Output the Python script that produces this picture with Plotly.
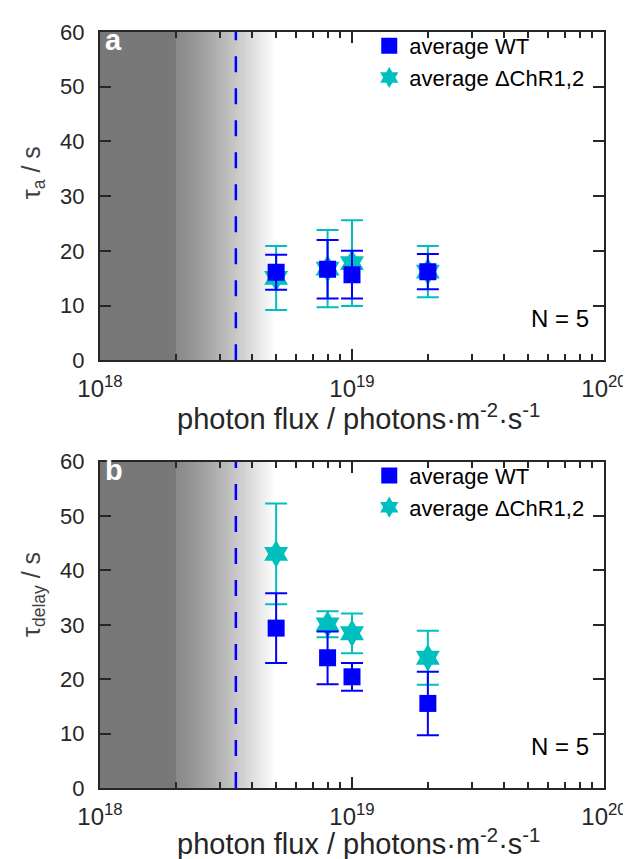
import numpy as np
import plotly.graph_objects as go
from plotly.subplots import make_subplots

# ---------------- data ----------------
flux = [5e18, 8e18, 1e19, 2e19]

tau_a_wt = [16.1, 16.65, 15.65, 16.2]
tau_a_wt_err = [3.2, 5.35, 4.35, 3.2]
tau_a_dchr = [15.05, 16.75, 17.75, 16.2]
tau_a_dchr_err = [5.85, 7.05, 7.85, 4.7]

tau_delay_wt = [29.4, 23.95, 20.45, 15.55]
tau_delay_wt_err = [6.4, 4.85, 2.55, 5.85]
tau_delay_dchr = [43.05, 30.1, 28.45, 23.95]
tau_delay_dchr_err = [9.25, 2.4, 3.65, 4.95]

threshold_flux = 3.46e18      # dashed line
dark_end = 2.0e18             # uniform dark region end
gradient_end = 5.0e18         # gradient fades to white

x_tickvals = [1e18, 1e19, 1e20]
x_ticktext = ["10<sup>18</sup>", "10<sup>19</sup>", "10<sup>20</sup>"]
y_tickvals = [0, 10, 20, 30, 40, 50, 60]
panel_letters = ["a", "b"]
y_titles = ["τ<sub>a</sub> / s", "τ<sub>delay</sub> / s"]
x_title = "photon flux / photons·m<sup>-2</sup>·s<sup>-1</sup>"
n_label = "N = 5"
# --------------------------------------

WT_COLOR = "#0000FF"
DCHR_COLOR = "#00BFBF"
AX_COLOR = "#262626"
FONT = "Liberation Sans, Arial, sans-serif"

H = 859
W = 631
L, R = 92, 603
top_a, bot_a = 20, 350
top_b, bot_b = 452, 780
tot = bot_b - top_a


def px_x(X):
    return (X - L) / (R - L)


def px_y(Y):
    return (bot_b - Y) / tot


fig = make_subplots(rows=2, cols=1, vertical_spacing=0.134)

panels = [
    (tau_a_wt, tau_a_wt_err, tau_a_dchr, tau_a_dchr_err),
    (tau_delay_wt, tau_delay_wt_err, tau_delay_dchr, tau_delay_dchr_err),
]

minor_vals = [float(m) * 10.0 ** e for e in (18, 19) for m in range(2, 10)]

for i, (wt, wte, dc, dce) in enumerate(panels):
    row = i + 1
    legend_name = "legend" if i == 0 else "legend2"
    fig.add_trace(go.Scatter(
        x=flux, y=dc, mode="markers", name="average ΔChR1,2",
        marker=dict(symbol="hexagram", size=21, color=DCHR_COLOR),
        error_y=dict(type="data", array=dce, color=DCHR_COLOR, thickness=2, width=11),
        legend=legend_name, legendrank=2,
    ), row=row, col=1)
    fig.add_trace(go.Scatter(
        x=flux, y=wt, mode="markers", name="average WT",
        marker=dict(symbol="square", size=17, color=WT_COLOR),
        error_y=dict(type="data", array=wte, color=WT_COLOR, thickness=2, width=11),
        legend=legend_name, legendrank=1,
    ), row=row, col=1)

    xref = "x" if i == 0 else "x2"
    yref = "y domain" if i == 0 else "y2 domain"
    nstrip = 70
    edges = np.logspace(np.log10(dark_end), np.log10(gradient_end), nstrip + 1)
    # dark region (ends under the first gradient strips so no seam shows)
    fig.add_shape(type="rect", xref=xref, yref=yref, x0=1e18, x1=float(edges[2]), y0=0, y1=1,
                  fillcolor="#787878", line_width=0, layer="below")
    # gradient: overlapping strips, lighter ones drawn on top
    for k in range(nstrip):
        t = k / (nstrip - 1)
        g = int(round(138 + 117 * t ** 1.25))
        g = min(g, 255)
        x1 = float(edges[k + 3]) if k + 3 <= nstrip else gradient_end * 1.01
        fig.add_shape(type="rect", xref=xref, yref=yref, x0=float(edges[k]), x1=x1,
                      y0=0, y1=1, fillcolor=f"rgb({g},{g},{g})", line_width=0, layer="below")
    # threshold dashed line
    fig.add_shape(type="line", xref=xref, yref=yref, x0=threshold_flux, x1=threshold_flux,
                  y0=0, y1=1, line=dict(color=WT_COLOR, width=2.5, dash="16px,16px"), layer="above")

    fig.update_xaxes(
        type="log", range=[18, 20], tickvals=x_tickvals, ticktext=x_ticktext,
        ticks="inside", ticklen=11, tickwidth=1.5, tickcolor=AX_COLOR,
        minor=dict(tickvals=minor_vals, ticks="inside", ticklen=6, tickwidth=1.5, tickcolor=AX_COLOR),
        showline=True, linecolor=AX_COLOR, linewidth=2, mirror="ticks",
        showgrid=False, zeroline=False, ticklabelstandoff=6,
        tickfont=dict(family=FONT, size=24, color=AX_COLOR),
        row=row, col=1)
    fig.update_yaxes(
        range=[0, 60], tickvals=y_tickvals,
        ticks="inside", ticklen=11, tickwidth=1.5, tickcolor=AX_COLOR,
        showline=True, linecolor=AX_COLOR, linewidth=2, mirror="ticks",
        showgrid=False, zeroline=False, ticklabelstandoff=9,
        tickfont=dict(family=FONT, size=22, color=AX_COLOR),
        row=row, col=1)

    # panel letter
    fig.add_annotation(text=f"<b>{panel_letters[i]}</b>", xref=f"{xref} domain", yref=yref,
                       x=0.027, y=0.975, showarrow=False, xanchor="center", yanchor="middle",
                       font=dict(family=FONT, size=29, color="white"))
    # N = 5
    fig.add_annotation(text=n_label, xref=f"{xref} domain", yref=yref,
                       x=0.975, y=0.127, showarrow=False, xanchor="right", yanchor="middle",
                       font=dict(family=FONT, size=24, color="black"))

# axis titles as annotations
x_title_y = [407, 834]
y_title_y = [161, 585]
for i in range(2):
    fig.add_annotation(text=x_title, xref="paper", yref="paper",
                       x=px_x(354), y=px_y(x_title_y[i]), showarrow=False,
                       xanchor="center", yanchor="middle",
                       font=dict(family=FONT, size=29, color=AX_COLOR))
    fig.add_annotation(text=y_titles[i], xref="paper", yref="paper",
                       x=px_x(24), y=px_y(y_title_y[i]), showarrow=False, textangle=-90,
                       xanchor="center", yanchor="middle",
                       font=dict(family=FONT, size=25, color="#404040"))

fig.update_layout(
    yaxis=dict(domain=[(bot_b - bot_a) / tot, 1]),
    yaxis2=dict(domain=[0, (bot_b - top_b) / tot]),
)

legend_common = dict(
    bgcolor="rgba(0,0,0,0)", borderwidth=0, xanchor="left", yanchor="top",
    font=dict(family=FONT, size=22, color="black"), itemsizing="trace",
    tracegroupgap=0,
)
fig.update_layout(
    width=W, height=H,
    margin=dict(l=L, r=W - R, t=top_a, b=H - bot_b),
    paper_bgcolor="white", plot_bgcolor="white",
    showlegend=True,
    legend=dict(x=px_x(365), y=px_y(13), **legend_common),
    legend2=dict(x=px_x(365), y=px_y(445), **legend_common),
    font=dict(family=FONT),
)

fig.write_html("out.html")
